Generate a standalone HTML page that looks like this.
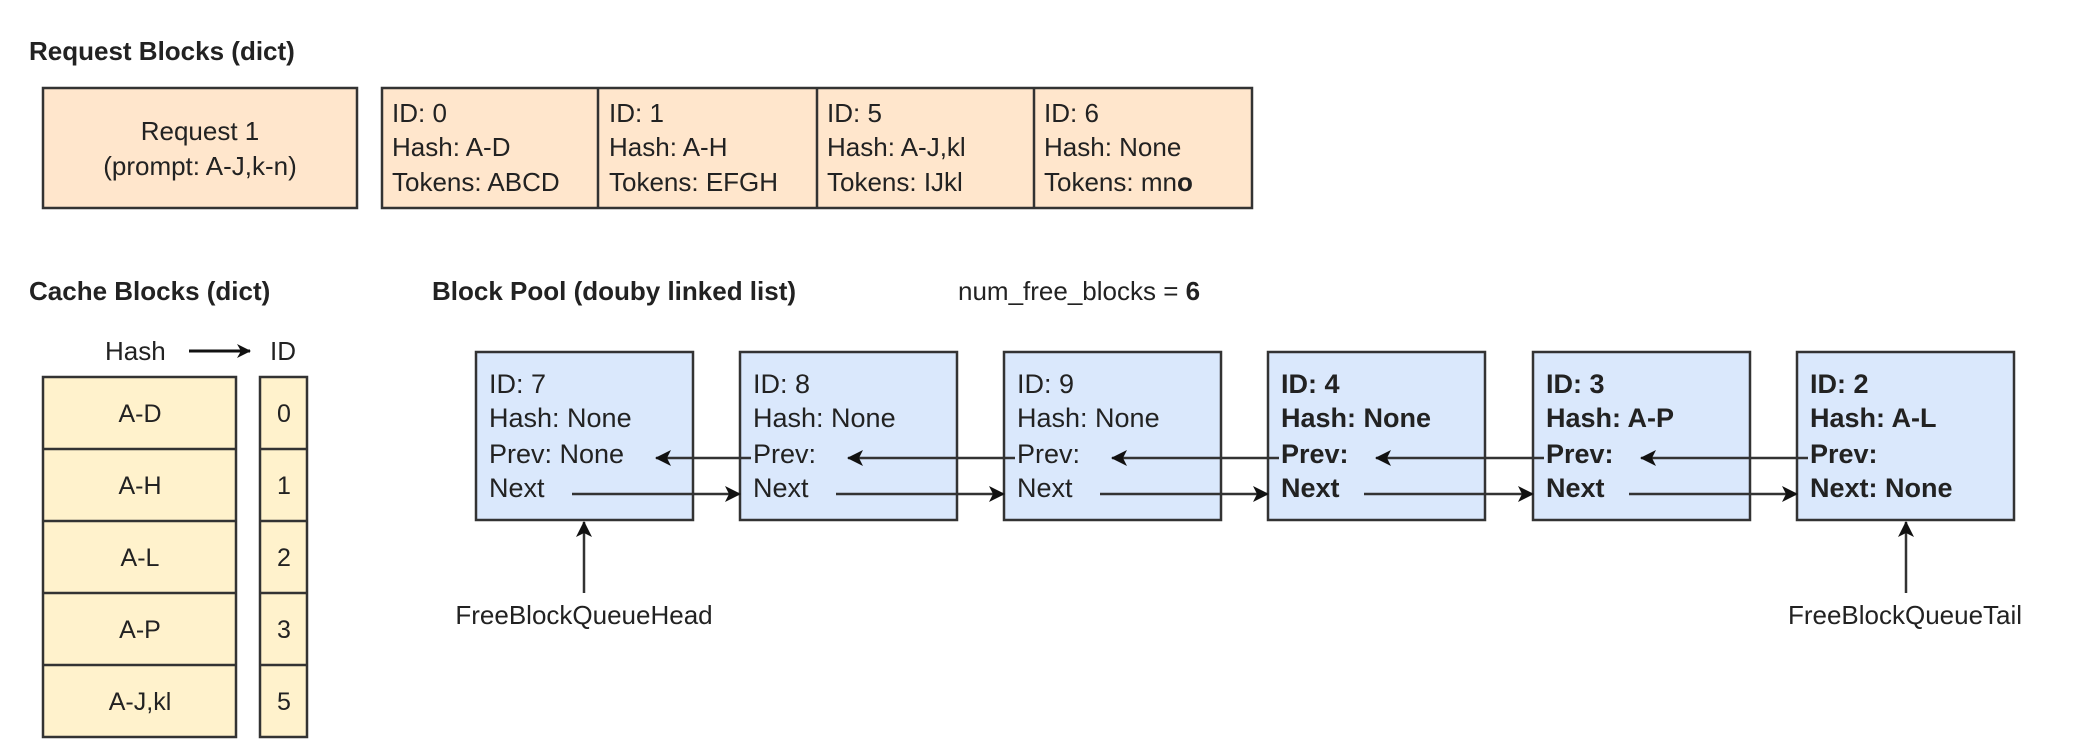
<!DOCTYPE html>
<html><head><meta charset="utf-8"><style>
html,body{margin:0;padding:0;background:#fff;}
svg{display:block;font-family:"Liberation Sans",Arial,sans-serif;}
</style></head><body>
<svg width="2080" height="752" viewBox="0 0 2080 752" xmlns="http://www.w3.org/2000/svg">
<defs>
<marker id="ah" markerWidth="14" markerHeight="14" refX="13" refY="7" orient="auto" markerUnits="userSpaceOnUse" viewBox="0 0 14 14">
<path d="M0,0 L14,7 L0,14 L4,7 Z" fill="#111"/>
</marker>
<marker id="ahb" markerWidth="16" markerHeight="16" refX="15" refY="8" orient="auto" markerUnits="userSpaceOnUse" viewBox="0 0 16 16">
<path d="M0,0 L16,8 L0,16 L4,8 Z" fill="#111"/>
</marker>
</defs>
<g font-size="27" fill="#222">
<text x="29" y="60" font-weight="bold" font-size="26">Request Blocks (dict)</text>
<text x="29" y="300" font-weight="bold" font-size="26">Cache Blocks (dict)</text>
<text x="432" y="300" font-weight="bold" font-size="26">Block Pool (douby linked list)</text>
<text x="958" y="300" font-size="26">num_free_blocks = <tspan font-weight="bold">6</tspan></text>
</g>
<g stroke="#333" stroke-width="2.5">
<rect x="43" y="88" width="314" height="120" fill="#ffe6cc"/>
<rect x="382" y="88" width="870" height="120" fill="#ffe6cc"/>
<line x1="598" y1="88" x2="598" y2="208"/>
<line x1="817" y1="88" x2="817" y2="208"/>
<line x1="1034" y1="88" x2="1034" y2="208"/>
</g>
<g font-size="26" fill="#222">
<text x="200" y="140" text-anchor="middle">Request 1</text>
<text x="200" y="175" text-anchor="middle">(prompt: A-J,k-n)</text>
<text x="392" y="122">ID: 0</text><text x="392" y="156">Hash: A-D</text><text x="392" y="191">Tokens: ABCD</text>
<text x="609" y="122">ID: 1</text><text x="609" y="156">Hash: A-H</text><text x="609" y="191">Tokens: EFGH</text>
<text x="827" y="122">ID: 5</text><text x="827" y="156">Hash: A-J,kl</text><text x="827" y="191">Tokens: IJkl</text>
<text x="1044" y="122">ID: 6</text><text x="1044" y="156">Hash: None</text><text x="1044" y="191">Tokens: mn<tspan font-weight="bold">o</tspan></text>
</g>
<g font-size="26" fill="#222">
<text x="105" y="360">Hash</text>
<text x="270" y="360">ID</text>
</g>
<line x1="189" y1="351" x2="250" y2="351" stroke="#111" stroke-width="3" marker-end="url(#ah)"/>
<g stroke="#333" stroke-width="2.5" fill="#fff2cc">
<rect x="43" y="377" width="193" height="360"/>
<rect x="260" y="377" width="47" height="360"/>
<line x1="43" y1="449" x2="236" y2="449"/><line x1="43" y1="521" x2="236" y2="521"/><line x1="43" y1="593" x2="236" y2="593"/><line x1="43" y1="665" x2="236" y2="665"/>
<line x1="260" y1="449" x2="307" y2="449"/><line x1="260" y1="521" x2="307" y2="521"/><line x1="260" y1="593" x2="307" y2="593"/><line x1="260" y1="665" x2="307" y2="665"/>
</g>
<g font-size="25" fill="#222" text-anchor="middle">
<text x="140" y="422">A-D</text><text x="140" y="494">A-H</text><text x="140" y="566">A-L</text><text x="140" y="638">A-P</text><text x="140" y="710">A-J,kl</text>
<text x="284" y="422">0</text><text x="284" y="494">1</text><text x="284" y="566">2</text><text x="284" y="638">3</text><text x="284" y="710">5</text>
</g>
<g stroke="#333" stroke-width="2.5" fill="#dae8fc">
<rect x="476" y="352" width="217" height="168"/>
<rect x="740" y="352" width="217" height="168"/>
<rect x="1004" y="352" width="217" height="168"/>
<rect x="1268" y="352" width="217" height="168"/>
<rect x="1533" y="352" width="217" height="168"/>
<rect x="1797" y="352" width="217" height="168"/>
</g>
<g font-size="27" fill="#222">
<text x="489" y="393">ID: 7</text><text x="489" y="427">Hash: None</text><text x="489" y="463">Prev: None</text><text x="489" y="497">Next</text>
<text x="753" y="393">ID: 8</text><text x="753" y="427">Hash: None</text><text x="753" y="463">Prev:</text><text x="753" y="497">Next</text>
<text x="1017" y="393">ID: 9</text><text x="1017" y="427">Hash: None</text><text x="1017" y="463">Prev:</text><text x="1017" y="497">Next</text>
<g font-weight="bold">
<text x="1281" y="393">ID: 4</text><text x="1281" y="427">Hash: None</text><text x="1281" y="463">Prev:</text><text x="1281" y="497">Next</text>
<text x="1546" y="393">ID: 3</text><text x="1546" y="427">Hash: A-P</text><text x="1546" y="463">Prev:</text><text x="1546" y="497">Next</text>
<text x="1810" y="393">ID: 2</text><text x="1810" y="427">Hash: A-L</text><text x="1810" y="463">Prev:</text><text x="1810" y="497">Next: None</text>
</g>
</g>
<g stroke="#333" stroke-width="2.5" fill="none">
<line x1="751" y1="458" x2="656" y2="458" marker-end="url(#ahb)"/>
<line x1="1015" y1="458" x2="848" y2="458" marker-end="url(#ahb)"/>
<line x1="1279" y1="458" x2="1112" y2="458" marker-end="url(#ahb)"/>
<line x1="1544" y1="458" x2="1376" y2="458" marker-end="url(#ahb)"/>
<line x1="1808" y1="458" x2="1641" y2="458" marker-end="url(#ahb)"/>
<line x1="572" y1="494" x2="740" y2="494" marker-end="url(#ahb)"/>
<line x1="836" y1="494" x2="1004" y2="494" marker-end="url(#ahb)"/>
<line x1="1100" y1="494" x2="1268" y2="494" marker-end="url(#ahb)"/>
<line x1="1364" y1="494" x2="1533" y2="494" marker-end="url(#ahb)"/>
<line x1="1629" y1="494" x2="1797" y2="494" marker-end="url(#ahb)"/>
<line x1="584" y1="593" x2="584" y2="522" marker-end="url(#ahb)"/>
<line x1="1906" y1="593" x2="1906" y2="522" marker-end="url(#ahb)"/>
</g>
<g font-size="26" fill="#222">
<text x="584" y="624" text-anchor="middle">FreeBlockQueueHead</text>
<text x="1905" y="624" text-anchor="middle">FreeBlockQueueTail</text>
</g>
</svg>
</body></html>
